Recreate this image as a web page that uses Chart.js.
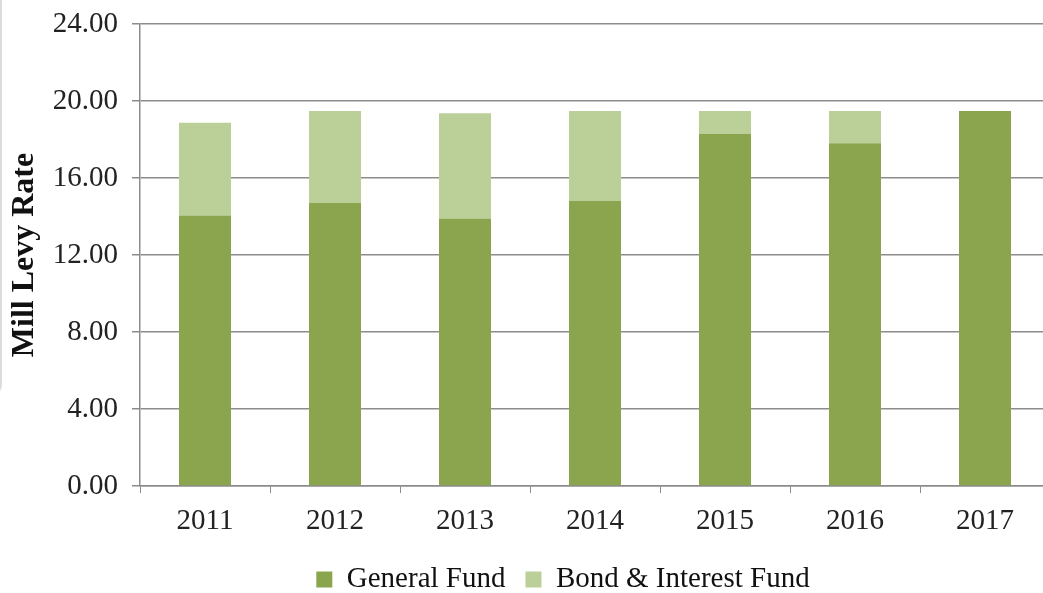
<!DOCTYPE html>
<html>
<head>
<meta charset="utf-8">
<script src="https://cdn.jsdelivr.net/npm/chart.js@4"></script>
<style>
  html, body { margin: 0; padding: 0; background: #fff; overflow: hidden; }
  #wrap { position: relative; width: 1043px; height: 593px; overflow: hidden; }
  #edge { position: absolute; left: -14px; top: -14px; width: 14px; height: 410px;
          border-right: 2px solid #dcdcdc; border-bottom: 2px solid #dcdcdc;
          border-bottom-right-radius: 14px; background: #f4f4f4; }
  canvas { position: absolute; left: 0; top: 0; }
</style>
</head>
<body>
<div id="wrap">
  <div id="edge"></div>
  <canvas id="levyChart" width="1050" height="593"></canvas>
</div>
<script>
const years = ["2011", "2012", "2013", "2014", "2015", "2016", "2017"];
const generalFund = [14.05, 14.70, 13.90, 14.80, 18.30, 17.80, 19.48];
const bondInterestFund = [4.82, 4.78, 5.46, 4.68, 1.18, 1.68, 0];
const yTicks = [0, 4, 8, 12, 16, 20, 24];

const serif = "'Liberation Serif', 'Times New Roman', serif";

// nudge the legend to sit under the plot like the original
const legendShift = {
  id: "legendShift",
  afterLayout(chart) {
    chart.legend.left += 38;
    chart.legend.right += 38;
  },
};

document.addEventListener("DOMContentLoaded", () => {
  const ctx = document.getElementById("levyChart").getContext("2d");
  new Chart(ctx, {
    type: "bar",
    data: {
      labels: years,
      datasets: [
        {
          label: "General Fund",
          data: generalFund,
          backgroundColor: "#8BA54E",
          barPercentage: 0.4,
          categoryPercentage: 1,
        },
        {
          label: "Bond & Interest Fund",
          data: bondInterestFund,
          backgroundColor: "#BBCF99",
          barPercentage: 0.4,
          categoryPercentage: 1,
        },
      ],
    },
    options: {
      responsive: false,
      animation: false,
      layout: { padding: { top: 24, right: 0, bottom: -11, left: 0 } },
      plugins: {
        legend: {
          position: "bottom",
          labels: {
            font: { family: serif, size: 29 },
            color: "#111",
            boxWidth: 16,
            boxHeight: 16,
            padding: 20,
          },
        },
        tooltip: { enabled: false },
      },
      scales: {
        x: {
          stacked: true,
          afterFit: (scale) => { scale.height = 59; },
          grid: {
            offset: true,
            drawOnChartArea: false,
            color: "#8c8c8c",
            tickLength: 7,
          },
          border: { color: "#8c8c8c", width: 1.5 },
          ticks: {
            font: { family: serif, size: 29 },
            color: "#222",
            padding: 11,
          },
        },
        y: {
          stacked: true,
          min: 0,
          max: 24,
          afterFit: (scale) => { scale.width = 140; },
          afterBuildTicks: (scale) => {
            scale.ticks = yTicks.map((v) => ({ value: v }));
          },
          grid: { color: "#8c8c8c", lineWidth: 1.5, tickLength: 8 },
          border: { color: "#8c8c8c", width: 1.5 },
          ticks: {
            font: { family: serif, size: 29, lineHeight: 0.6 },
            color: "#222",
            padding: 14,
            callback: (v) => Number(v).toFixed(2),
          },
          title: {
            display: true,
            text: "Mill Levy Rate",
            font: { family: serif, size: 32, weight: "bold" },
            color: "#111",
            padding: { top: 6, bottom: 0 },
          },
        },
      },
    },
    plugins: [legendShift],
  });
});
</script>
</body>
</html>
